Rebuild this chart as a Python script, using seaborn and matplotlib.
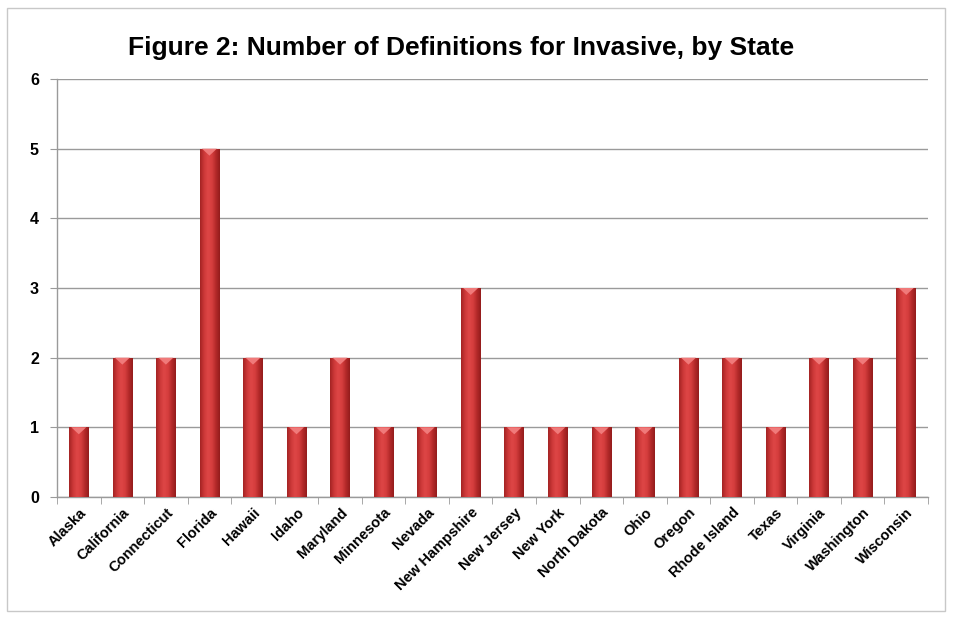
import numpy as np
import pandas as pd
import seaborn as sns
import matplotlib.pyplot as plt
from matplotlib.colors import LinearSegmentedColormap
from matplotlib.patches import Rectangle, Polygon

states = ['Alaska', 'California', 'Connecticut', 'Florida', 'Hawaii', 'Idaho',
          'Maryland', 'Minnesota', 'Nevada', 'New Hampshire', 'New Jersey',
          'New York', 'North Dakota', 'Ohio', 'Oregon', 'Rhode Island', 'Texas',
          'Virginia', 'Washington', 'Wisconsin']
definitions = [1, 2, 2, 5, 2, 1, 2, 1, 1, 3, 1, 1, 1, 1, 2, 2, 1, 2, 2, 3]
yticks = [0, 1, 2, 3, 4, 5, 6]

df = pd.DataFrame({'State': states, 'Definitions': definitions})

sns.set_style('white')
plt.rcParams['font.family'] = ['Liberation Sans', 'DejaVu Sans']
plt.rcParams['text.color'] = 'black'
plt.rcParams['xtick.labelcolor'] = 'black'
plt.rcParams['ytick.labelcolor'] = 'black'

fig = plt.figure(figsize=(9.54, 6.2), dpi=100)
ax = fig.add_axes([57 / 954, 1 - 497 / 620, 871 / 954, 418 / 620])

sns.barplot(data=df, x='State', y='Definitions', color='#c0392b', width=0.45,
            saturation=1, ax=ax, zorder=3)

# cylinder-like shading on each bar
shade = LinearSegmentedColormap.from_list(
    'shade', ['#a42424', '#cc3838', '#de4646', '#d63e3e', '#b42a2a', '#931c1c'])
grad = np.linspace(0, 1, 64).reshape(1, -1)
for p in ax.patches:
    x0, y0 = p.get_x(), p.get_y()
    w, h = p.get_width(), p.get_height()
    p.set_facecolor('none')
    p.set_edgecolor('none')
    im = ax.imshow(grad, cmap=shade, aspect='auto', extent=(x0, x0 + w, y0, y0 + h),
                   zorder=4)
    clip = Rectangle((x0, y0), w, h, transform=ax.transData)
    im.set_clip_path(clip)
    ax.add_patch(Polygon([[x0 + w * 0.12, y0 + h], [x0 + w / 2, y0 + h - 0.1],
                          [x0 + w * 0.88, y0 + h]], closed=True,
                         facecolor='#f07a7a', edgecolor='none', zorder=5))

ax.set_xlim(-0.5, len(states) - 0.5)
ax.set_ylim(0, 6)
ax.set_yticks(yticks)
ax.set_yticklabels([str(t) for t in yticks], fontsize=11.5, fontweight='bold')
ax.yaxis.grid(True, color='#9a9a9a', lw=1)
ax.set_axisbelow(True)

ax.set_xticks(range(len(states)))
ax.set_xticklabels(states, rotation=45, ha='right', rotation_mode='anchor',
                   fontsize=10.5, fontweight='bold')
ax.tick_params(axis='x', length=0, pad=6)
ax.tick_params(axis='y', length=5, color='#9a9a9a', left=True, pad=8)
ax.set_xticks(np.arange(-0.5, len(states)), minor=True)
ax.tick_params(axis='x', which='minor', length=5, color='#9a9a9a', bottom=True)

for s in ['top', 'right']:
    ax.spines[s].set_visible(False)
for s in ['left', 'bottom']:
    ax.spines[s].set_color('#9a9a9a')
    ax.spines[s].set_linewidth(1)

ax.set_xlabel('')
ax.set_ylabel('')

fig.text(461 / 954, 1 - 48 / 620, 'Figure 2: Number of Definitions for Invasive, by State',
         ha='center', va='center', fontsize=19, fontweight='bold', color='black')

fig.patches.append(Rectangle((7 / 954, 1 - 611 / 620), 938 / 954, 603 / 620,
                             transform=fig.transFigure, fill=False,
                             edgecolor='#c8c8c8', lw=1))

fig.savefig('out.png', dpi=100)
